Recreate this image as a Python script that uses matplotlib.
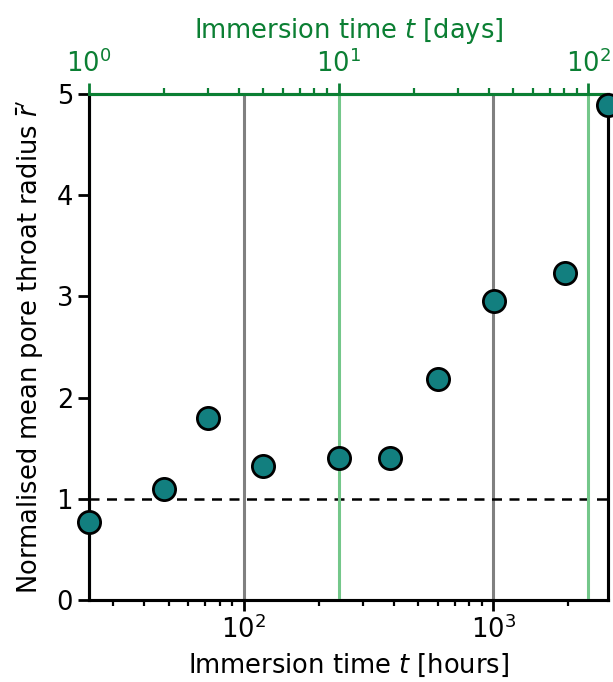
import matplotlib
matplotlib.use("Agg")
import matplotlib.pyplot as plt

# immersion times (days) and normalised mean pore throat radius
days = [1, 2, 3, 5, 10, 16, 25, 42, 81, 120]
radius = [0.77, 1.10, 1.80, 1.32, 1.40, 1.40, 2.18, 2.95, 3.23, 4.89]

green = "#0b7f33"
light_green = "#74c78a"
fs = 18.5

fig = plt.figure(figsize=(6.13, 6.82), dpi=100)
ax = fig.add_axes([0.1452, 0.1202, 0.9918 - 0.1452, 0.8622 - 0.1202])

ax.set_xscale("log")
ax.set_xlim(24 * min(days), 24 * max(days))
ax.set_ylim(0, 5)
ax.set_xlabel("Immersion time $t$ [hours]", fontsize=fs, labelpad=5)
ax.set_ylabel("Normalised mean pore throat radius $\\bar{r}'$", fontsize=fs,
              labelpad=8)
ax.tick_params(which="major", labelsize=fs, length=8, width=2)
ax.tick_params(which="minor", length=4.5, width=1.6)
ax.xaxis.grid(True, which="major", color="gray", lw=2.2)
for s in ax.spines.values():
    s.set_linewidth(2.2)
ax.axhline(1, color="black", ls="--", lw=1.8, dashes=(4, 3))

ax2 = ax.twiny()
ax2.set_xscale("log")
ax2.set_xlim(min(days), max(days))
ax2.set_xlabel("Immersion time $t$ [days]", fontsize=fs, color=green,
               labelpad=8)
ax2.tick_params(axis="x", which="major", labelsize=fs, length=8, width=2,
                colors=green)
ax2.tick_params(axis="x", which="minor", length=4.5, width=1.6, colors=green)
ax2.xaxis.grid(True, which="major", color=light_green, lw=2.2)
for s in ax2.spines.values():
    s.set_linewidth(2.2)
ax2.spines["top"].set_color(green)

ax2.plot(days, radius, "o", ms=16, mfc="#127f7f", mec="black", mew=2,
         clip_on=False, zorder=5)

fig.savefig("out.png", dpi=100)
